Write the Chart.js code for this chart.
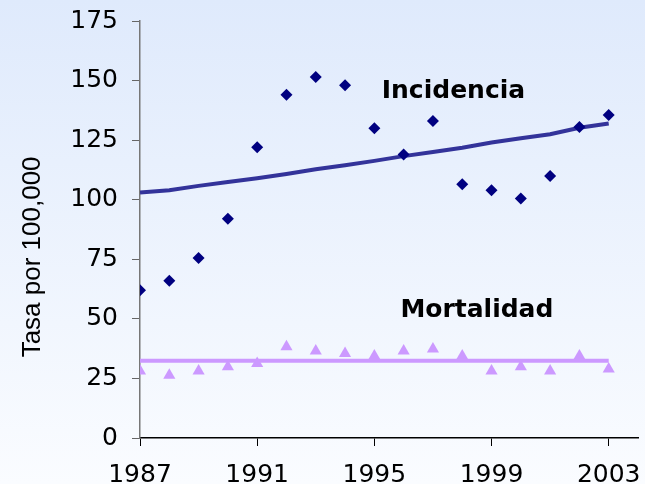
<!DOCTYPE html>
<html>
<head>
<meta charset="utf-8">
<script src="https://cdn.jsdelivr.net/npm/chart.js@4/dist/chart.umd.min.js"></script>
<style>
  html, body { margin: 0; padding: 0; background: #fff; }
  #wrap { width: 645px; height: 484px; }
</style>
</head>
<body>
<div id="wrap"><canvas id="chart" width="645" height="484"></canvas></div>
<script>
// data
var years = [1987, 1988, 1989, 1990, 1991, 1992, 1993, 1994, 1995, 1996, 1997, 1998, 1999, 2000, 2001, 2002, 2003];
var incidencia = [62, 66, 75.5, 92, 122, 144, 151.5, 148, 130, 119, 133, 106.5, 104, 100.5, 110, 130.5, 135.5];
var incidenciaTrend = [103, 104, 105.8, 107.4, 109, 110.8, 112.8, 114.5, 116.3, 118.3, 120, 121.8, 124, 125.8, 127.5, 130.2, 132];
var mortalidad = [28.1, 26.3, 28.1, 29.9, 31.3, 38.3, 36.5, 35.5, 34.4, 36.5, 37.3, 34.4, 28.1, 29.9, 28.1, 34.4, 29];
var mortalidadTrend = [32.4, 32.4, 32.4, 32.4, 32.4, 32.4, 32.4, 32.4, 32.4, 32.4, 32.4, 32.4, 32.4, 32.4, 32.4, 32.4, 32.4];
var xTicks = [1987, 1991, 1995, 1999, 2003];
var yTitle = 'Tasa por 100,000';
// series names drawn inside the plot, at data coordinates
var seriesLabels = [
    { text: 'Incidencia', x: 1997.7, y: 145.5 },
    { text: 'Mortalidad', x: 1998.5, y: 53.5 }
];

function toPoints(ys) {
    return years.map(function (y, i) { return { x: y, y: ys[i] }; });
}

var bgPlugin = {
    id: 'bg',
    beforeDraw: function (chart) {
        var c = chart.ctx;
        var g = c.createLinearGradient(0, 0, 0, chart.height);
        g.addColorStop(0, '#dfeafc');
        g.addColorStop(1, '#fafcff');
        c.save();
        c.fillStyle = g;
        c.fillRect(0, 0, chart.width, chart.height);
        c.restore();
    }
};

var labelPlugin = {
    id: 'seriesLabels',
    afterDatasetsDraw: function (chart) {
        var c = chart.ctx;
        var xs = chart.scales.x, ys = chart.scales.y;
        c.save();
        c.font = 'bold 25px "DejaVu Sans"';
        c.fillStyle = '#000';
        c.textAlign = 'center';
        c.textBaseline = 'middle';
        seriesLabels.forEach(function (l) {
            c.fillText(l.text, xs.getPixelForValue(l.x), ys.getPixelForValue(l.y));
        });
        // axis title, a little below the middle of the axis as in the original
        c.translate(33, ys.getPixelForValue(76));
        c.rotate(-Math.PI / 2);
        c.font = '26px "Liberation Sans"';
        c.fillText(yTitle, 0, 0);
        c.restore();
    }
};

var ctx = document.getElementById('chart').getContext('2d');
var myChart = new Chart(ctx, {
    type: 'scatter',
    data: {
        datasets: [{
            data: toPoints(incidencia),
            pointStyle: 'rectRot',
            pointRadius: 6,
            backgroundColor: '#000080',
            borderColor: '#000080',
            borderWidth: 0,
            order: 0
        }, {
            data: toPoints(mortalidad),
            pointStyle: 'triangle',
            pointRadius: 7,
            backgroundColor: '#cc99ff',
            borderColor: '#cc99ff',
            borderWidth: 0,
            order: 0
        }, {
            data: toPoints(incidenciaTrend),
            showLine: true,
            pointRadius: 0,
            borderColor: '#33339a',
            borderWidth: 4,
            order: 1
        }, {
            data: toPoints(mortalidadTrend),
            showLine: true,
            pointRadius: 0,
            borderColor: '#cc99ff',
            borderWidth: 4,
            order: 1
        }]
    },
    options: {
        responsive: false,
        animation: false,
        layout: { padding: { top: 21, right: 3, left: 0, bottom: 0 } },
        plugins: {
            legend: { display: false },
            tooltip: { enabled: false }
        },
        scales: {
            x: {
                type: 'linear',
                min: 1987,
                max: 2004,
                afterBuildTicks: function (scale) {
                    scale.ticks = xTicks.map(function (v) { return { value: v }; });
                },
                afterFit: function (scale) {
                    scale.height = 46;
                    scale.paddingLeft = 0;
                    scale.paddingRight = 0;
                },
                grid: { drawOnChartArea: false, tickLength: 8, color: '#000', lineWidth: 1 },
                border: { color: '#000', width: 1.5 },
                ticks: {
                    color: '#000',
                    padding: 14,
                    maxRotation: 0,
                    font: { family: 'DejaVu Sans', size: 25 },
                    callback: function (v) { return String(v); }
                }
            },
            y: {
                min: 0,
                max: 175,
                afterFit: function (scale) {
                    scale.width = 140;
                    scale.paddingTop = 0;
                    scale.paddingBottom = 0;
                },
                grid: { drawOnChartArea: false, tickLength: 8, color: '#666', lineWidth: 1 },
                border: { color: '#777', width: 1.5 },
                ticks: {
                    stepSize: 25,
                    color: '#000',
                    padding: 14,
                    font: { family: 'DejaVu Sans', size: 25 }
                },
                title: { display: false }
            }
        }
    },
    plugins: [bgPlugin, labelPlugin]
});
</script>
</body>
</html>
